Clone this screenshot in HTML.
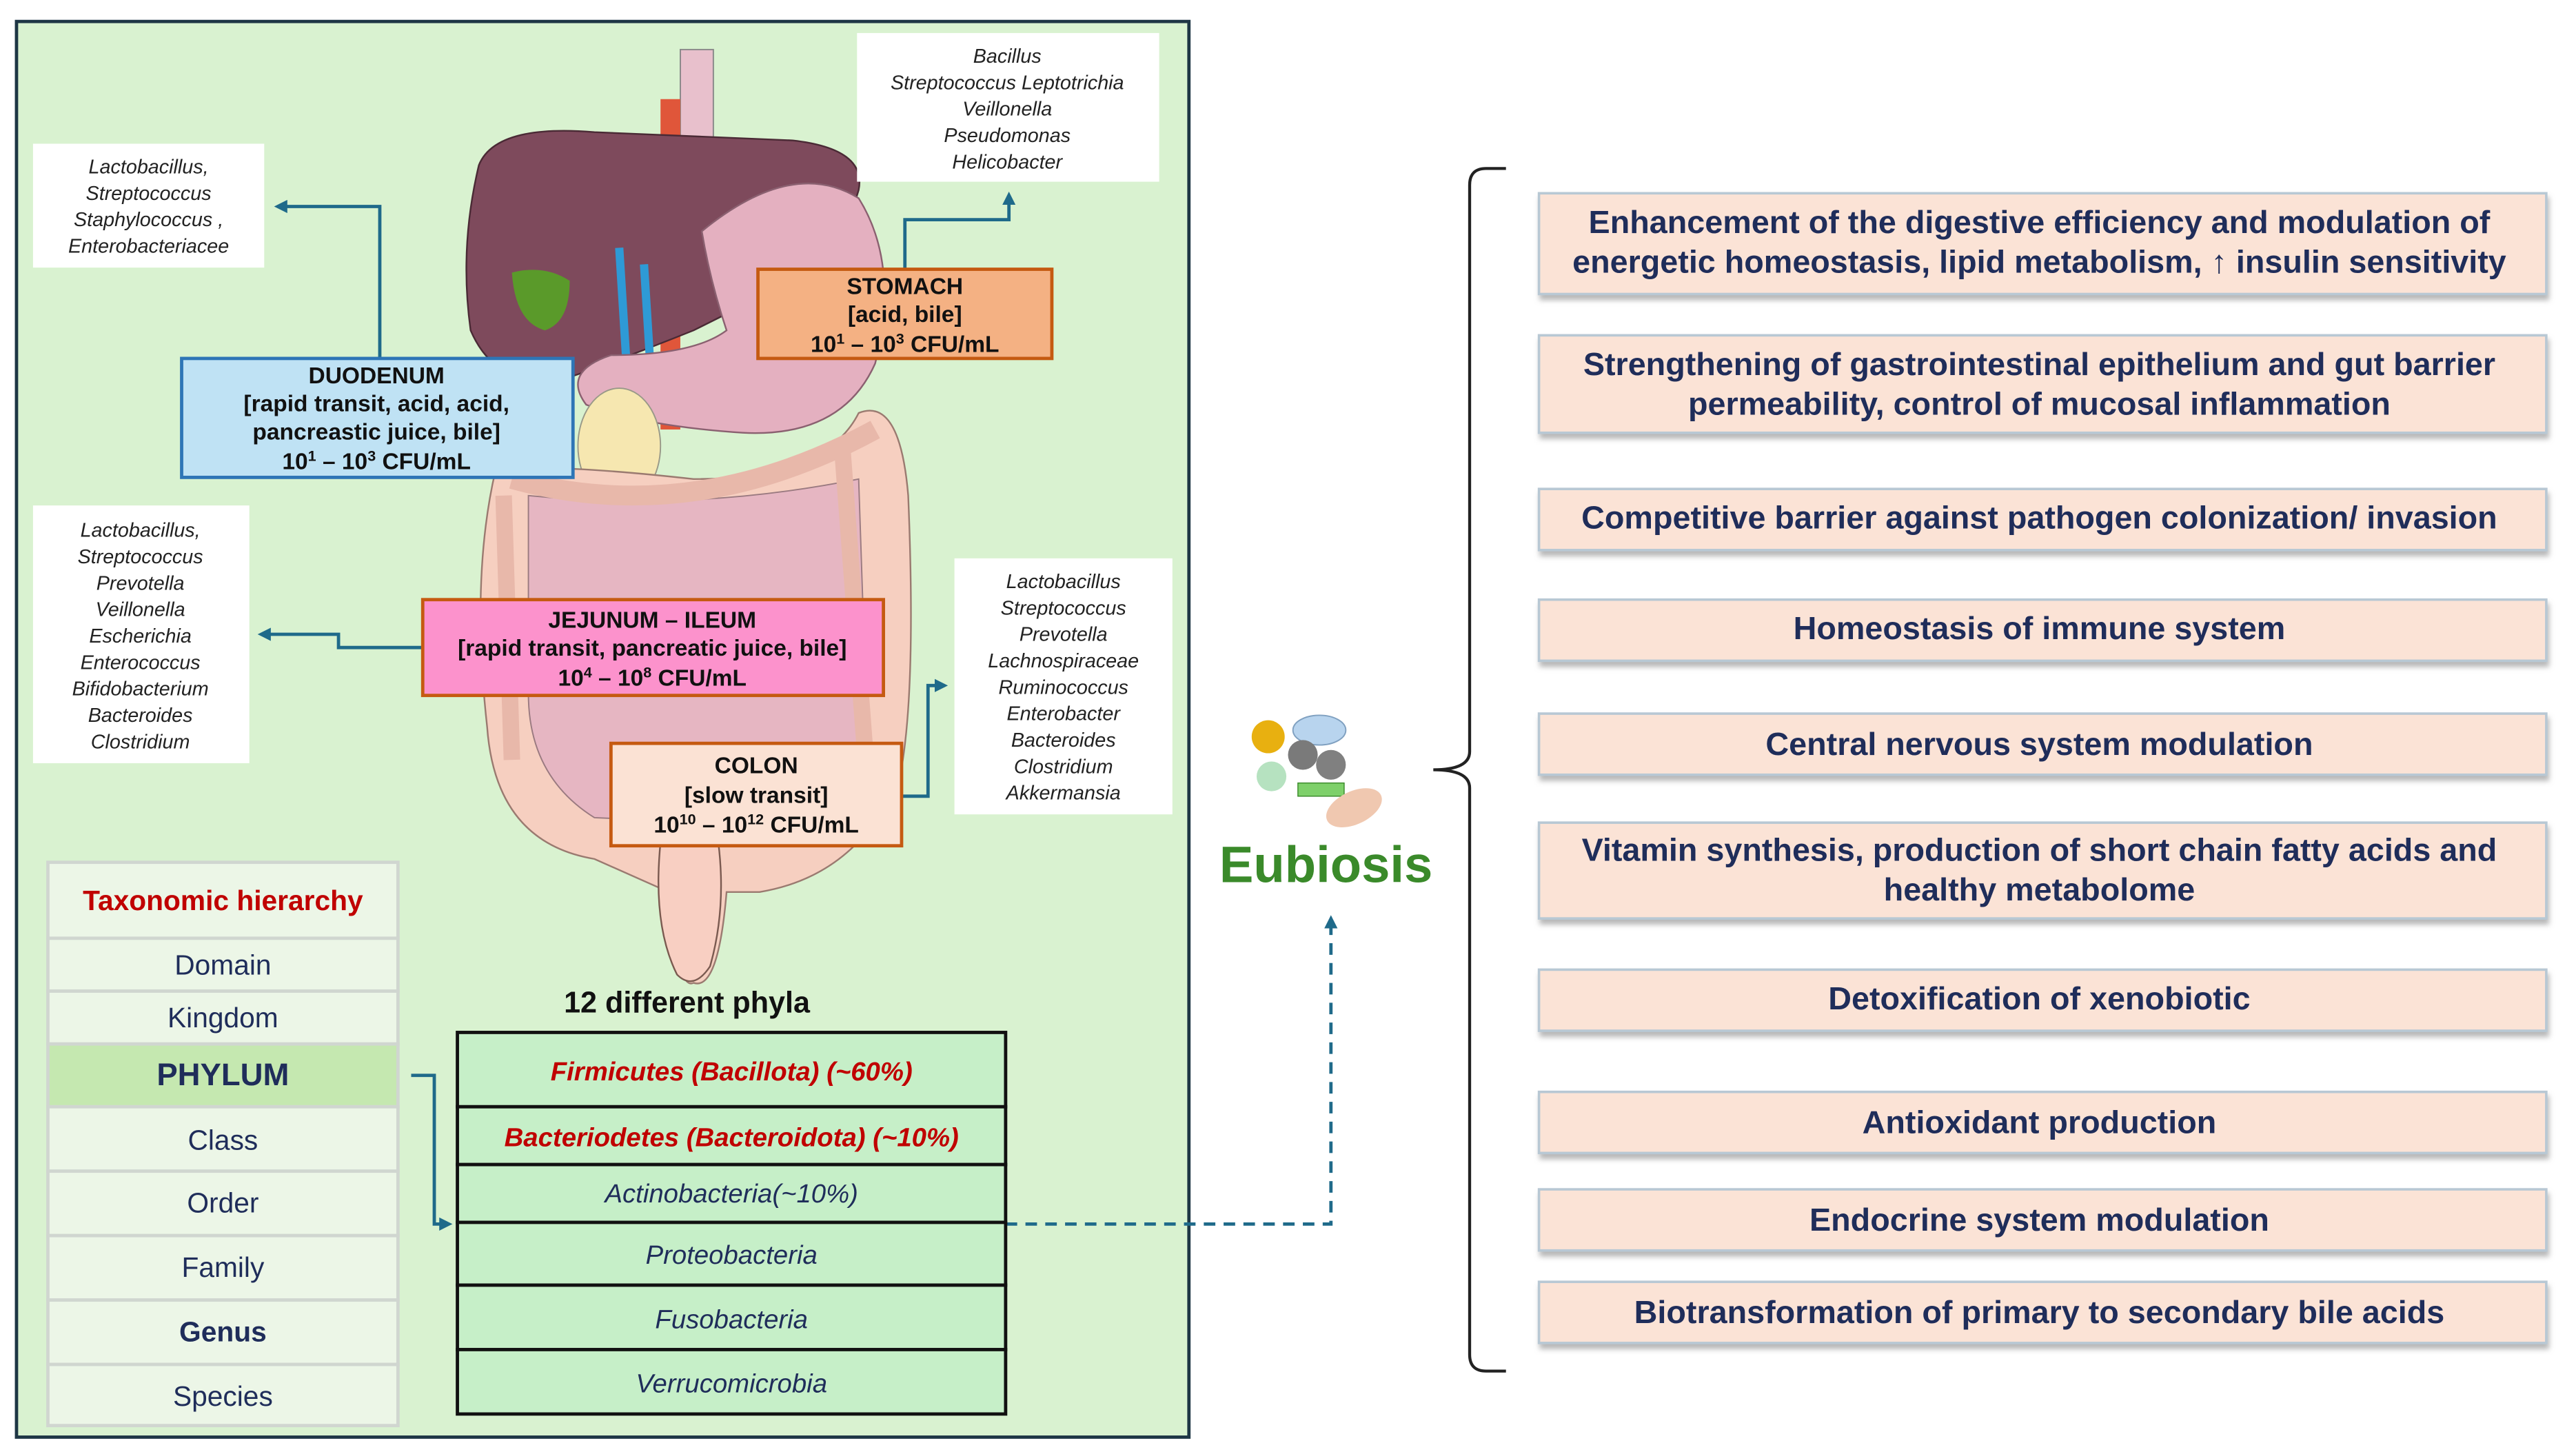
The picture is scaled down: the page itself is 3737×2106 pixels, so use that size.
<!DOCTYPE html>
<html><head><meta charset="utf-8"><style>
html,body{margin:0;padding:0;background:#fff;}
svg{display:block;}
text{font-family:"Liberation Sans",Arial,sans-serif;}
</style></head><body>
<svg width="3737" height="2106" viewBox="0 0 1560 879" preserveAspectRatio="none" xmlns="http://www.w3.org/2000/svg">
<defs>
<marker id="ah" markerWidth="8" markerHeight="8" refX="6" refY="4" orient="auto" markerUnits="userSpaceOnUse"><path d="M0,0 L8,4 L0,8 Z" fill="#1f6a8a"/></marker>
<filter id="sh" x="-5%" y="-20%" width="110%" height="160%"><feDropShadow dx="1" dy="3" stdDeviation="1.5" flood-color="#888" flood-opacity="0.6"/></filter>
</defs>
<rect x="0" y="0" width="1560" height="879" fill="#fff"/>
<rect x="10" y="13" width="710" height="857" fill="#d9f2d0" stroke="#1e3645" stroke-width="2"/>

<!-- anatomy -->
<rect x="412" y="30" width="20" height="100" fill="#e8c0cc" stroke="#888" stroke-width="0.8"/>
<rect x="400" y="60" width="12" height="200" fill="#e0563a"/>
<path d="M290,100 Q300,75 360,80 L480,85 Q525,90 520,115 Q510,150 470,175 L420,200 Q370,220 340,230 Q300,235 285,200 Q278,150 290,100Z" fill="#7e4a5c" stroke="#4a2a35" stroke-width="1"/>
<path d="M310,165 Q330,160 345,170 Q345,195 330,200 Q312,195 310,165Z" fill="#5a9a2a"/>
<path d="M375,150 L380,230 M390,160 L395,240" stroke="#2e9ad6" stroke-width="5" fill="none"/>
<path d="M425,140 Q480,95 520,120 Q545,160 530,220 Q510,265 450,262 Q390,258 355,245 Q340,225 370,215 Q420,215 440,200 Q430,170 425,140Z" fill="#e4b0c0" stroke="#8a6070" stroke-width="1"/>
<ellipse cx="375" cy="270" rx="25" ry="35" fill="#f6e7b0" stroke="#998" stroke-width="0.8"/>
<path d="M300,285 Q330,280 420,290 Q500,290 520,250 Q545,240 550,300 Q555,420 545,470 Q520,530 460,540 L440,540 Q435,600 420,595 Q410,600 405,540 L360,520 Q300,510 295,440 Q285,350 300,285Z" fill="#f6cfc0" stroke="#9a7a70" stroke-width="1"/>
<path d="M320,300 Q420,310 520,290 L525,440 Q520,480 480,500 L360,495 Q320,470 320,420Z" fill="#e6b6c2" stroke="#9a7a80" stroke-width="0.8"/>
<path d="M310,290 Q420,320 530,260" stroke="#e8b8aa" stroke-width="12" fill="none"/>
<path d="M510,270 L525,470 M305,300 L310,460" stroke="#e8b8aa" stroke-width="10" fill="none"/>
<path d="M400,510 Q395,560 410,590 Q420,600 430,585 Q440,550 435,510Z" fill="#f8cfc2" stroke="#7a5a50" stroke-width="1"/>

<g font-style="italic" font-size="12" fill="#222" text-anchor="middle">
<rect x="20" y="87" width="140" height="75" fill="#fff"/>
<text x="90" y="105">Lactobacillus,</text><text x="90" y="121">Streptococcus</text><text x="90" y="137">Staphylococcus ,</text><text x="90" y="153">Enterobacteriacee</text>
<rect x="519" y="20" width="183" height="90" fill="#fff"/>
<text x="610" y="38">Bacillus</text><text x="610" y="54">Streptococcus Leptotrichia</text><text x="610" y="70">Veillonella</text><text x="610" y="86">Pseudomonas</text><text x="610" y="102">Helicobacter</text>
<rect x="20" y="306" width="131" height="156" fill="#fff"/>
<text x="85" y="325">Lactobacillus,</text><text x="85" y="341">Streptococcus</text><text x="85" y="357">Prevotella</text><text x="85" y="373">Veillonella</text><text x="85" y="389">Escherichia</text><text x="85" y="405">Enterococcus</text><text x="85" y="421">Bifidobacterium</text><text x="85" y="437">Bacteroides</text><text x="85" y="453">Clostridium</text>
<rect x="578" y="338" width="132" height="155" fill="#fff"/>
<text x="644" y="356">Lactobacillus</text><text x="644" y="372">Streptococcus</text><text x="644" y="388">Prevotella</text><text x="644" y="404">Lachnospiraceae</text><text x="644" y="420">Ruminococcus</text><text x="644" y="436">Enterobacter</text><text x="644" y="452">Bacteroides</text><text x="644" y="468">Clostridium</text><text x="644" y="484">Akkermansia</text>
</g>

<g stroke="#1f6a8a" stroke-width="2" fill="none">
<path d="M230,217 V125 H168" marker-end="url(#ah)"/>
<path d="M548,163 V133 H611 V118" marker-end="url(#ah)"/>
<path d="M256,392 H205 V384 H158" marker-end="url(#ah)"/>
<path d="M546,482 H562 V415 H572" marker-end="url(#ah)"/>
<path d="M249,651 H263 V741 H272" marker-end="url(#ah)"/>
<path d="M609,741 H806 V556" stroke-dasharray="7,5" marker-end="url(#ah)"/>
</g>

<g font-weight="bold" font-size="14" fill="#111" text-anchor="middle">
<rect x="459" y="163" width="178" height="54" fill="#f4b183" stroke="#c55a11" stroke-width="2"/>
<text x="548" y="178">STOMACH</text><text x="548" y="195">[acid, bile]</text><text x="548" y="213">10<tspan font-size="9" dy="-5">1</tspan><tspan dy="5"> – 10</tspan><tspan font-size="9" dy="-5">3</tspan><tspan dy="5"> CFU/mL</tspan></text>
<rect x="110" y="217" width="237" height="72" fill="#bfe2f4" stroke="#2e75b6" stroke-width="2"/>
<text x="228" y="232">DUODENUM</text><text x="228" y="249">[rapid transit, acid,  acid,</text><text x="228" y="266">pancreastic juice, bile]</text><text x="228" y="284">10<tspan font-size="9" dy="-5">1</tspan><tspan dy="5"> – 10</tspan><tspan font-size="9" dy="-5">3</tspan><tspan dy="5"> CFU/mL</tspan></text>
<rect x="256" y="363" width="279" height="58" fill="#fc92cc" stroke="#c55a11" stroke-width="2"/>
<text x="395" y="380">JEJUNUM – ILEUM</text><text x="395" y="397">[rapid transit, pancreatic juice,  bile]</text><text x="395" y="415">10<tspan font-size="9" dy="-5">4</tspan><tspan dy="5"> – 10</tspan><tspan font-size="9" dy="-5">8</tspan><tspan dy="5"> CFU/mL</tspan></text>
<rect x="370" y="450" width="176" height="62" fill="#fbe2d4" stroke="#c55a11" stroke-width="2"/>
<text x="458" y="468">COLON</text><text x="458" y="486">[slow transit]</text><text x="458" y="504">10<tspan font-size="9" dy="-5">10</tspan><tspan dy="5"> – 10</tspan><tspan font-size="9" dy="-5">12</tspan><tspan dy="5"> CFU/mL</tspan></text>
</g>

<g stroke="#d0d6d0" stroke-width="2">
<rect x="29" y="522" width="212" height="46" fill="#ecf6e7"/>
<rect x="29" y="568" width="212" height="32" fill="#ecf6e7"/>
<rect x="29" y="600" width="212" height="32" fill="#ecf6e7"/>
<rect x="29" y="632" width="212" height="38" fill="#c5e8b0"/>
<rect x="29" y="670" width="212" height="39" fill="#ecf6e7"/>
<rect x="29" y="709" width="212" height="39" fill="#ecf6e7"/>
<rect x="29" y="748" width="212" height="39" fill="#ecf6e7"/>
<rect x="29" y="787" width="212" height="39" fill="#ecf6e7"/>
<rect x="29" y="826" width="212" height="37" fill="#ecf6e7"/>
</g>
<g text-anchor="middle" fill="#1f2d5a" font-size="17">
<text x="135" y="551" fill="#c00000" font-weight="bold">Taxonomic hierarchy</text>
<text x="135" y="590">Domain</text>
<text x="135" y="622">Kingdom</text>
<text x="135" y="657" font-weight="bold" font-size="19">PHYLUM</text>
<text x="135" y="696">Class</text>
<text x="135" y="734">Order</text>
<text x="135" y="773">Family</text>
<text x="135" y="812" font-weight="bold">Genus</text>
<text x="135" y="851">Species</text>
</g>

<text x="416" y="613" text-anchor="middle" font-weight="bold" font-size="18" fill="#111">12 different phyla</text>
<g stroke="#111" stroke-width="2" fill="#c6efc8">
<rect x="277" y="625" width="332" height="45"/>
<rect x="277" y="670" width="332" height="35"/>
<rect x="277" y="705" width="332" height="35"/>
<rect x="277" y="740" width="332" height="38"/>
<rect x="277" y="778" width="332" height="39"/>
<rect x="277" y="817" width="332" height="39"/>
</g>
<g text-anchor="middle" font-style="italic" font-size="16" fill="#1f2d5a">
<text x="443" y="654" fill="#c00000" font-weight="bold">Firmicutes (Bacillota) (~60%)</text>
<text x="443" y="694" fill="#c00000" font-weight="bold">Bacteriodetes (Bacteroidota) (~10%)</text>
<text x="443" y="728">Actinobacteria(~10%)</text>
<text x="443" y="765">Proteobacteria</text>
<text x="443" y="804">Fusobacteria</text>
<text x="443" y="843">Verrucomicrobia</text>
</g>

<ellipse cx="799" cy="442" rx="16" ry="9" fill="#b8d4ee" stroke="#7fa0c0" stroke-width="0.8"/>
<circle cx="768" cy="446" r="10" fill="#e8b010"/>
<circle cx="789" cy="457" r="9" fill="#7a7a7a"/>
<circle cx="806" cy="463" r="9" fill="#808080"/>
<circle cx="770" cy="470" r="9" fill="#b6e2c0"/>
<rect x="786" y="474" width="28" height="8" fill="#7ed06a" stroke="#3a8a2a" stroke-width="0.6"/>
<ellipse cx="820" cy="489" rx="18" ry="10" transform="rotate(-25 820 489)" fill="#f0c8b0"/>
<text x="803" y="534" text-anchor="middle" font-weight="bold" font-size="31" fill="#3a8a2a">Eubiosis</text>

<path d="M912,102 H900 Q890,102 890,112 V455 Q890,466 868,466 Q890,466 890,477 V820 Q890,830 900,830 H912" stroke="#222" stroke-width="1.8" fill="none"/>

<g fill="#fbe3d6" stroke="#b8c8d4" stroke-width="1.5" filter="url(#sh)">
<rect x="932" y="117" width="610" height="61"/>
<rect x="932" y="203" width="610" height="59"/>
<rect x="932" y="296" width="610" height="37"/>
<rect x="932" y="363" width="610" height="37"/>
<rect x="932" y="432" width="610" height="37"/>
<rect x="932" y="498" width="610" height="58"/>
<rect x="932" y="587" width="610" height="37"/>
<rect x="932" y="661" width="610" height="37"/>
<rect x="932" y="720" width="610" height="37"/>
<rect x="932" y="776" width="610" height="37"/>
</g>
<g text-anchor="middle" font-weight="bold" font-size="19.5" fill="#1f2d5a">
<text x="1235" y="141">Enhancement of the digestive efficiency and modulation of</text>
<text x="1235" y="165">energetic homeostasis, lipid metabolism,  ↑ insulin sensitivity</text>
<text x="1235" y="227">Strengthening of gastrointestinal epithelium and gut barrier</text>
<text x="1235" y="251">permeability, control of mucosal inflammation</text>
<text x="1235" y="320">Competitive barrier against pathogen colonization/ invasion</text>
<text x="1235" y="387">Homeostasis of immune system</text>
<text x="1235" y="457">Central nervous system modulation</text>
<text x="1235" y="521">Vitamin synthesis, production of short chain fatty acids and</text>
<text x="1235" y="545">healthy metabolome</text>
<text x="1235" y="611">Detoxification of xenobiotic</text>
<text x="1235" y="686">Antioxidant production</text>
<text x="1235" y="745">Endocrine system modulation</text>
<text x="1235" y="801">Biotransformation of primary to secondary bile acids</text>
</g>
</svg>
</body></html>
